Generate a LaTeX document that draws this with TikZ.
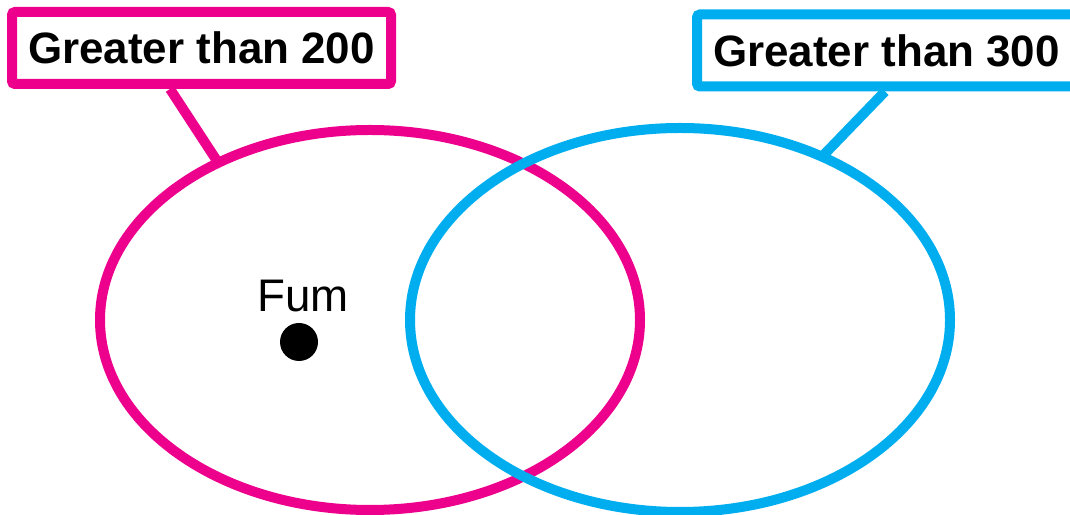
\documentclass[tikz,border=0pt]{standalone}
\usepackage{fontspec}
\setmainfont{Liberation Sans}
\usepackage{tikz}
\usetikzlibrary{shapes.geometric,positioning}
\usepackage{xcolor}
\definecolor{setpink}{HTML}{EC008C}
\definecolor{setblue}{HTML}{00AEEF}

\begin{document}
\begin{tikzpicture}[
      set/.style={ellipse,draw,line width=0.2cm,inner sep=0pt,outer sep=0pt,
                  minimum width=10.8cm,minimum height=7.6cm},
      tag/.style={draw,line width=0.2cm,fill=white,rounded corners=0.06cm,
                  minimum width=7.58cm,minimum height=1.44cm,inner sep=0pt,
                  font=\fontsize{25}{30}\selectfont\bfseries},
      dot/.style={circle,fill=black,inner sep=0pt,minimum size=0.76cm}
    ]
      \useasboundingbox (0,0) rectangle (21.4,10.28);
      \node[set,draw=setpink] (A) at (7.4,3.88) {};
      \node[set,draw=setblue,minimum height=7.68cm] (B) at (13.6,3.88) {};
      \node[tag,draw=setpink] (tA) at (4.03,9.32) {Greater than 200};
      \node[tag,draw=setblue] (tB) at (17.73,9.27) {Greater than 300};
      \draw[setpink,line width=0.2cm] ([xshift=-0.63cm]tA.south) -- (A.134.6);
      \draw[setblue,line width=0.2cm] ([xshift=-0.03cm]tB.south) -- (B.49.6);
      \node[dot] (fum) at (5.98,3.44) {};
      \node[anchor=base,font=\fontsize{26}{31}\selectfont] (fumlbl) at (6.06,4.04) {Fum};
    \end{tikzpicture}
\end{document}
